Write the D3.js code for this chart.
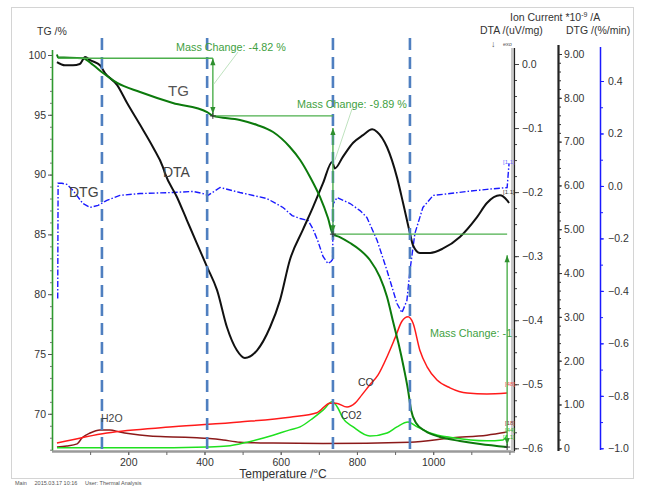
<!DOCTYPE html>
<html><head><meta charset="utf-8">
<script src="https://cdn.jsdelivr.net/npm/d3@7"></script>
<style>
body{margin:0;background:#fff}
svg{display:block;font-family:"Liberation Sans",Arial,sans-serif}
</style>
</head><body>
<svg id="chart" width="645" height="486"></svg>
<script>
// ---- thermal analysis data (temperature in °C) ----
const tgCurve = [[13,100.04],[16,99.79],[47,99.78],[81,99.72],[108,99.16],[134,98.49],[171,97.66],[231,96.91],[317,95.99],[407,95.23],[422,94.91],[493,94.57],[538,94.15],[580,93.56],[624,92.31],[651,91.22],[677,89.80],[703,88.13],[724,86.37],[737,85.02],[755,84.78],[782,84.28],[808,83.70],[834,82.86],[860,81.44],[879,79.77],[895,77.68],[910,75.75],[923,73.83],[934,71.99],[942,70.32],[955,69.23],[979,68.56],[1018,68.06],[1070,67.73],[1123,67.47],[1194,67.22]];
const dtaCurve = [[13,0.003],[34,-0.002],[55,-0.002],[73,0.000],[87,0.011],[100,0.006],[126,-0.002],[139,-0.014],[171,-0.033],[197,-0.061],[231,-0.095],[265,-0.130],[291,-0.161],[296,-0.170],[328,-0.208],[354,-0.244],[380,-0.280],[407,-0.317],[433,-0.353],[459,-0.411],[485,-0.447],[506,-0.459],[538,-0.447],[572,-0.411],[598,-0.369],[624,-0.306],[658,-0.259],[685,-0.223],[711,-0.186],[735,-0.153],[742,-0.163],[763,-0.145],[790,-0.123],[816,-0.111],[840,-0.102],[853,-0.106],[879,-0.130],[905,-0.177],[921,-0.217],[939,-0.264],[947,-0.283],[965,-0.295],[992,-0.295],[1026,-0.288],[1070,-0.270],[1115,-0.239],[1141,-0.217],[1175,-0.205],[1194,-0.213],[1199,-0.217]];
const dtgCurve = [[15,-0.429],[16,0.010],[26,0.010],[39,0.006],[55,-0.017],[81,-0.067],[100,-0.082],[121,-0.074],[144,-0.055],[178,-0.036],[231,-0.029],[317,-0.025],[370,-0.021],[396,-0.029],[409,-0.036],[441,-0.006],[493,-0.025],[564,-0.048],[606,-0.082],[630,-0.113],[651,-0.124],[672,-0.132],[684,-0.162],[697,-0.208],[711,-0.269],[724,-0.296],[732,-0.288],[736,-0.280],[738,-0.067],[748,-0.044],[782,-0.067],[808,-0.094],[826,-0.120],[853,-0.208],[879,-0.323],[905,-0.448],[918,-0.483],[931,-0.437],[939,-0.323],[952,-0.181],[973,-0.082],[1000,-0.036],[1044,-0.029],[1089,-0.021],[1141,-0.013],[1194,-0.006],[1199,0.086]];
// ion currents (*10^-9 A)
const coCurve = [[13,0.12],[144,0.35],[317,0.49],[493,0.60],[624,0.71],[695,0.81],[729,1.03],[745,1.03],[774,0.94],[795,1.03],[813,1.22],[834,1.45],[855,1.67],[881,2.13],[900,2.52],[918,2.90],[934,3.00],[947,2.86],[965,2.24],[984,1.86],[1010,1.56],[1044,1.38],[1089,1.26],[1141,1.24],[1194,1.26]];
const h2oCurve = [[13,0.03],[39,0.05],[66,0.10],[79,0.24],[100,0.35],[126,0.42],[152,0.42],[178,0.37],[205,0.33],[257,0.28],[317,0.26],[380,0.24],[407,0.23],[449,0.19],[493,0.14],[580,0.12],[711,0.11],[939,0.14],[1052,0.24],[1141,0.30],[1194,0.37]];
const co2Curve = [[13,0.01],[231,0.01],[407,0.03],[459,0.05],[512,0.14],[580,0.30],[624,0.42],[651,0.49],[685,0.69],[711,0.87],[735,1.06],[750,0.92],[763,0.69],[790,0.49],[834,0.28],[879,0.35],[905,0.49],[934,0.60],[958,0.49],[992,0.35],[1052,0.24],[1141,0.17],[1183,0.19],[1194,0.30]];

// evaluation markers and mass steps
const markerTemps = [131, 407, 737, 939];
const massStartTemp = 16;
const massStartLevel = 99.73;
const massStepTemps = [422, 737, 1194];
const massChanges = [-4.82, -9.89, -17.80];

// axis tick values
const tgTicks = [70, 75, 80, 85, 90, 95, 100];
const tempTicks = [200, 400, 600, 800, 1000];
const dtaTicks = [0.0, -0.1, -0.2, -0.3, -0.4, -0.5, -0.6];
const ionTicks = [0, 1, 2, 3, 4, 5, 6, 7, 8, 9];
const dtgTicks = [0.4, 0.2, 0.0, -0.2, -0.4, -0.6, -0.8, -1.0];

// ---- scales ----
const x = d3.scaleLinear().domain([0, 1212]).range([52, 514]);
const yTG = d3.scaleLinear().domain([70, 100]).range([413.8, 55]);
const yDTA = d3.scaleLinear().domain([-0.6, 0]).range([448.3, 64]);
const yIon = d3.scaleLinear().domain([0, 9]).range([448.3, 54]);
const yDTG = d3.scaleLinear().domain([-1.0, 0.4]).range([448.3, 81]);

const svg = d3.select("#chart");
const txt = "#333";

// outer frame
svg.append("rect").attr("x", 11.5).attr("y", 7.5).attr("width", 622).attr("height", 471)
  .attr("fill", "none").attr("stroke", "#d4d4d4");

// ---- axes ----
function styleAxis(g, col) {
  g.select(".domain").remove();
  g.selectAll(".tick line").attr("stroke", col);
  g.selectAll(".tick text").attr("fill", txt).attr("font-size", 10.5)
    .attr("font-family", "Liberation Sans, Arial, sans-serif");
}
// left TG axis
svg.append("line").attr("x1", 52.5).attr("x2", 52.5).attr("y1", 50).attr("y2", 451)
  .attr("stroke", "#2e9a2e").attr("stroke-width", 1.6);
svg.append("g").attr("transform", "translate(52,0)")
  .call(d3.axisLeft(yTG).tickValues(d3.range(67, 101, 1)).tickSize(2).tickFormat(""))
  .call(g => styleAxis(g, "#777"));
svg.append("g").attr("transform", "translate(52,0)")
  .call(d3.axisLeft(yTG).tickValues(tgTicks).tickSize(4).tickPadding(2).tickFormat(d3.format("d")))
  .call(g => styleAxis(g, "#555"));

// bottom temperature axis
svg.append("line").attr("x1", 52).attr("x2", 515).attr("y1", 451.5).attr("y2", 451.5)
  .attr("stroke", "#9a9a9a").attr("stroke-width", 2.5);
svg.append("g").attr("transform", "translate(0,452)")
  .call(d3.axisBottom(x).tickValues(d3.range(100, 1201, 100)).tickSize(3).tickFormat(""))
  .call(g => styleAxis(g, "#666"));
svg.append("g").attr("transform", "translate(0,452)")
  .call(d3.axisBottom(x).tickValues(tempTicks).tickSize(3).tickPadding(4).tickFormat(d3.format("d")))
  .call(g => styleAxis(g, "#666"));

// DTA axis
svg.append("line").attr("x1", 512.5).attr("x2", 512.5).attr("y1", 48).attr("y2", 451)
  .attr("stroke", "#c8c8c8").attr("stroke-width", 3);
svg.append("line").attr("x1", 514.5).attr("x2", 514.5).attr("y1", 48).attr("y2", 451)
  .attr("stroke", "#222").attr("stroke-width", 1.2);
svg.append("g").attr("transform", "translate(515,0)")
  .call(d3.axisRight(yDTA).tickValues(d3.range(-24, 1).map(d => d * 0.025)).tickSize(2).tickFormat(""))
  .call(g => styleAxis(g, "#444"));
svg.append("g").attr("transform", "translate(515,0)")
  .call(d3.axisRight(yDTA).tickValues(dtaTicks).tickSize(4).tickPadding(3).tickFormat(d3.format(".1f")))
  .call(g => styleAxis(g, "#444"));

// ion current axis
svg.append("line").attr("x1", 558.5).attr("x2", 558.5).attr("y1", 45).attr("y2", 451)
  .attr("stroke", "#222").attr("stroke-width", 2.2);
svg.append("g").attr("transform", "translate(559,0)")
  .call(d3.axisRight(yIon).tickValues(d3.range(0, 46).map(d => d * 0.2)).tickSize(2).tickFormat(""))
  .call(g => styleAxis(g, "#333"));
svg.append("g").attr("transform", "translate(559,0)")
  .call(d3.axisRight(yIon).tickValues(ionTicks).tickSize(3).tickPadding(2)
    .tickFormat(d => d === 0 ? "0" : d3.format(".2f")(d)))
  .call(g => styleAxis(g, "#333"));

// DTG axis
svg.append("line").attr("x1", 600.5).attr("x2", 600.5).attr("y1", 47).attr("y2", 450)
  .attr("stroke", "#1a1aff").attr("stroke-width", 1.5);
svg.append("g").attr("transform", "translate(601,0)")
  .call(d3.axisRight(yDTG).tickValues(d3.range(-10, 5).map(d => d * 0.1)).tickSize(2).tickFormat(""))
  .call(g => styleAxis(g, "#1a1aff"));
svg.append("g").attr("transform", "translate(601,0)")
  .call(d3.axisRight(yDTG).tickValues(dtgTicks).tickSize(3).tickPadding(4).tickFormat(d3.format(".1f")))
  .call(g => styleAxis(g, "#1a1aff"));

// ---- axis titles ----
svg.append("text").attr("x", 37).attr("y", 35).attr("font-size", 10.5).attr("fill", txt).text("TG /%");
const ion = svg.append("text").attr("x", 510).attr("y", 21).attr("font-size", 10.5).attr("fill", txt);
ion.append("tspan").text("Ion Current *10");
ion.append("tspan").attr("dy", -4).attr("font-size", 7).text("-9");
ion.append("tspan").attr("dy", 4).text(" /A");
svg.append("text").attr("x", 480).attr("y", 34).attr("font-size", 10.5).attr("fill", txt).text("DTA /(uV/mg)");
svg.append("text").attr("x", 566).attr("y", 34).attr("font-size", 10.5).attr("fill", txt).text("DTG /(%/min)");
svg.append("text").attr("x", 491).attr("y", 47).attr("font-size", 9).attr("fill", "#555").text("↓");
svg.append("text").attr("x", 503).attr("y", 46).attr("font-size", 5.5).attr("fill", "#555").text("exo");
svg.append("text").attr("x", 283).attr("y", 478).attr("text-anchor", "middle").attr("font-size", 12)
  .attr("fill", txt).text("Temperature /°C");
svg.append("text").attr("x", 15).attr("y", 485).attr("font-size", 5.5).attr("fill", "#555")
  .attr("xml:space", "preserve").text("Main     2015.03.17 10:16     User: Thermal Analysis");

// ---- curves ----
const plot = svg.append("g");
const lineOf = ys => d3.line().x(d => x(d[0])).y(d => ys(d[1])).curve(d3.curveMonotoneX);

plot.append("path").datum(h2oCurve).attr("d", lineOf(yIon))
  .attr("fill", "none").attr("stroke", "#8b1a1a").attr("stroke-width", 1.5);
plot.append("path").datum(co2Curve).attr("d", lineOf(yIon))
  .attr("fill", "none").attr("stroke", "#1fe01f").attr("stroke-width", 1.5);
plot.append("path").datum(coCurve).attr("d", lineOf(yIon))
  .attr("fill", "none").attr("stroke", "#ff1a1a").attr("stroke-width", 1.5);
plot.append("path").datum(dtgCurve).attr("d", d3.line().x(d => x(d[0])).y(d => yDTG(d[1])))
  .attr("fill", "none").attr("stroke", "#1a1aff").attr("stroke-width", 1.4)
  .attr("stroke-dasharray", "6,2,1.5,2");
plot.append("path").datum(dtaCurve).attr("d", lineOf(yDTA))
  .attr("fill", "none").attr("stroke", "#111").attr("stroke-width", 2);
plot.append("path").datum(tgCurve).attr("d", lineOf(yTG))
  .attr("fill", "none").attr("stroke", "#0c7a0c").attr("stroke-width", 2);

// ---- evaluation markers ----
markerTemps.forEach(t => {
  svg.append("line").attr("x1", x(t)).attr("x2", x(t)).attr("y1", 38).attr("y2", 451)
    .attr("stroke", "#4f7fc0").attr("stroke-width", 2.6).attr("stroke-dasharray", "12,7");
});

// ---- mass change annotations ----
const mc = "#3f9f3f";
const levels = [massStartLevel];
massChanges.forEach((c, i) => levels.push(+(levels[i] + c).toFixed(2)));
const stepStarts = [massStartTemp, massStepTemps[0], massStepTemps[1]];
const ann = svg.append("g");
function arrowHead(px, py, dir) {
  ann.append("path")
    .attr("d", `M${px},${py} l-2.6,${-dir * 7} l5.2,0 z`)
    .attr("fill", "#2e8f2e");
}
for (let i = 0; i < 3; i++) {
  const ly = yTG(levels[i]);
  ann.append("line").attr("x1", x(stepStarts[i])).attr("x2", x(massStepTemps[i]))
    .attr("y1", ly).attr("y2", ly).attr("stroke", "#4caf4c").attr("stroke-width", 1.4);
}
const arrowGap = [0, 12, 21];
for (let i = 0; i < 3; i++) {
  const ax = x(massStepTemps[i]);
  const top = yTG(levels[i]) + arrowGap[i];
  const bot = yTG(levels[i + 1]);
  ann.append("line").attr("x1", ax).attr("x2", ax).attr("y1", top).attr("y2", bot)
    .attr("stroke", "#4caf4c").attr("stroke-width", 1.4);
  arrowHead(ax, top, -1);
  arrowHead(ax, bot - 2, 1);
  ann.append("path").attr("d", `M${ax - 3},${bot} h6 M${ax},${bot - 3} v6`)
    .attr("stroke", "#333").attr("stroke-width", 1);
}
// labels with leader lines
ann.append("line").attr("x1", 238).attr("y1", 52).attr("x2", x(massStepTemps[0]) + 1).attr("y2", 84)
  .attr("stroke", "#bfe3bf").attr("stroke-width", 1);
ann.append("line").attr("x1", 352).attr("y1", 109).attr("x2", x(massStepTemps[1]) + 2).attr("y2", 160)
  .attr("stroke", "#bfe3bf").attr("stroke-width", 1);
const fmtPct = c => `Mass Change: ${c.toFixed(2)} %`;
ann.append("text").attr("x", 176).attr("y", 51).attr("font-size", 10.8).attr("fill", mc).text(fmtPct(massChanges[0]));
ann.append("text").attr("x", 297).attr("y", 108).attr("font-size", 10.8).attr("fill", mc).text(fmtPct(massChanges[1]));
svg.append("clipPath").attr("id", "plotClip").append("rect")
  .attr("x", 52).attr("y", 30).attr("width", 461).attr("height", 425);
ann.append("text").attr("x", 430).attr("y", 337).attr("font-size", 10.8).attr("fill", mc)
  .attr("clip-path", "url(#plotClip)").text(fmtPct(massChanges[2]));

// ---- curve labels ----
const lab = (t, px, py, size, col) => svg.append("text").attr("x", px).attr("y", py)
  .attr("font-size", size).attr("fill", col).text(t);
lab("TG", 168, 96, 15, "#555");
lab("DTA", 163, 177, 14, "#444");
lab("DTG", 69, 197, 14, "#444");
lab("CO", 358, 386, 10.5, "#333");
lab("CO2", 341, 419, 10, "#333");
lab("H2O", 101, 422, 10.5, "#444");

// small end-of-curve tags
const tag = (t, px, py, col) => svg.append("text").attr("x", px).attr("y", py)
  .attr("font-size", 6).attr("fill", col).text(t);
tag("[1.1]", 503, 164, "#6f6fff");
tag("[1.1]", 503, 194, "#333");
tag("[48]", 505, 386, "#ee5555");
tag("[18]", 505, 425, "#8b3a3a");
tag("[44]", 505, 432, "#33bb33");
tag("[1.1]", 503, 439, "#33bb33");
</script>
</body></html>
